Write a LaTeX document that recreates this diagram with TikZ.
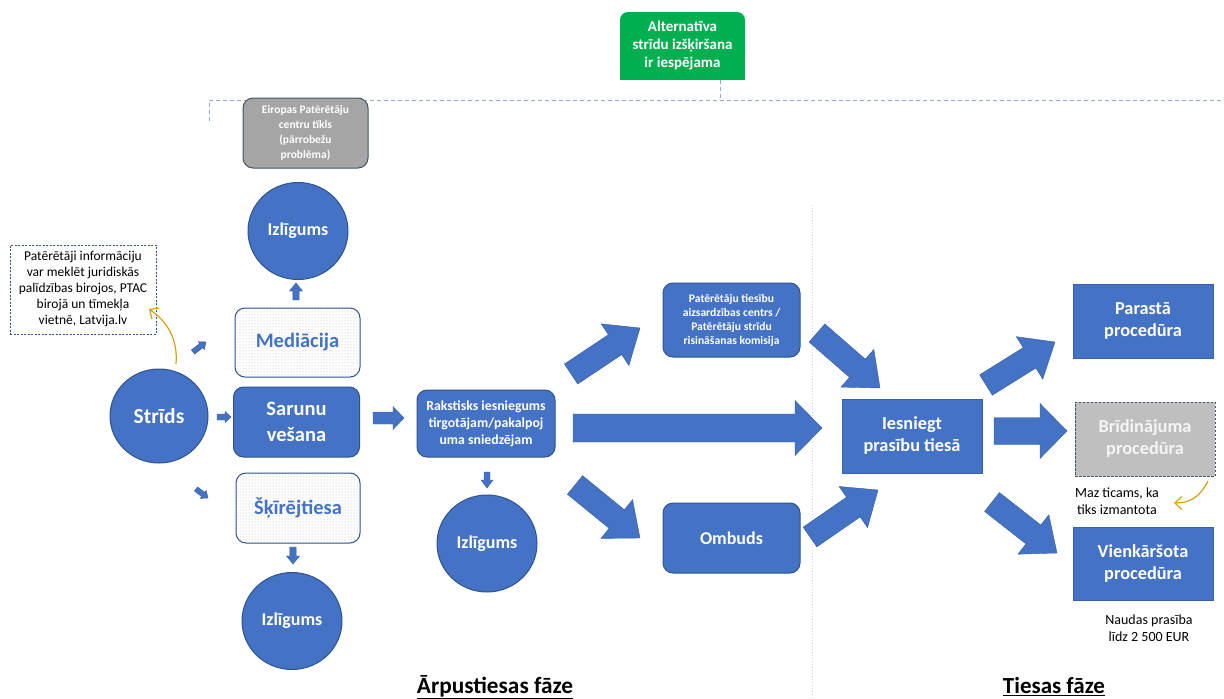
\documentclass[tikz,border=0pt]{standalone}
\usepackage{fontspec}
\setmainfont{Carlito}
\usetikzlibrary{calc,shapes.geometric,patterns,arrows.meta}
\definecolor{myblue}{HTML}{4472C4}
\definecolor{myborder}{HTML}{2F528F}
\definecolor{altgreen}{HTML}{00B050}
\definecolor{midgray}{HTML}{A5A5A5}
\definecolor{lightgray2}{HTML}{BFBFBF}
\definecolor{slate}{HTML}{44546A}
\definecolor{dashblue}{HTML}{8FAADC}
\definecolor{gold}{HTML}{D4A017}
\newcommand\fs[2]{\fontsize{#1}{#2}\selectfont}
\newcommand\barrow[5]{%
  \coordinate (bh) at ($(#2)!#5!(#1)$);
  \filldraw[barrowstyle] ($(#1)!#3!90:(#2)$) -- ($(bh)!#3!-90:(#1)$) -- ($(bh)!#4!-90:(#1)$) -- (#2) -- ($(bh)!#4!90:(#1)$) -- ($(bh)!#3!90:(#1)$) -- ($(#1)!#3!-90:(#2)$) -- cycle;}
\tikzset{
  barrowstyle/.style={fill=myblue, draw=myblue!80!black, line width=0.4pt},
  roundbox/.style={rectangle, rounded corners=10pt, fill=myblue, draw=myborder, line width=1pt, text=white, font=\bfseries, align=center, inner sep=0pt},
  sharpbox/.style={rectangle, fill=myblue, draw=myblue!85!black, line width=0.8pt, text=white, font=\bfseries, align=center, inner sep=0pt},
  dotbox/.style={rectangle, rounded corners=10pt, pattern=dots, pattern color=gray!60, draw=myborder, line width=1pt, text=myblue, font=\bfseries, align=center, inner sep=0pt},
  blob/.style={ellipse, fill=myblue, draw=myborder, line width=1pt, text=white, font=\bfseries\fs{18}{22}, inner sep=0pt},
  dashline/.style={dashed, draw=dashblue, line width=0.8pt, dash pattern=on 4pt off 3pt},
  goldarrow/.style={draw=gold, line width=1.2pt, -{Straight Barb[length=7pt,width=13pt]}},
  plain/.style={align=center, inner sep=0pt, text=black}
}
\begin{document}
\begin{tikzpicture}[x=1pt,y=-1pt]
\useasboundingbox (0,0) rectangle (1224,699);
% green box with rounded top
\fill[altgreen, rounded corners=8pt] (620,12) rectangle (745,60);
\fill[altgreen] (620,40) rectangle (745,80);
\node (alt) at (682.5,46) [plain, text=white, font=\bfseries\fs{15}{18}, minimum width=125pt, minimum height=68pt] {Alternatīva\\strīdu izšķiršana\\ir iespējama};
% dashed bracket line
\coordinate (dl0) at (209,121);
\coordinate (dl1) at (209,100);
\coordinate (dl2) at (1224,100);
\coordinate (altfoot) at (720,80);
\coordinate (altjoin) at (720,100);
\draw[dashline] (dl0) -- (dl1) -- (dl2);
\draw[dashline] (altfoot) -- (altjoin);
% separator
\coordinate (sep0) at (812,205);
\coordinate (sep1) at (812,699);
\draw[gray!35, dotted, line width=1pt] (sep0) -- (sep1);
% nodes
\node (epc) at (305.5,133) [rectangle, rounded corners=10pt, fill=midgray, draw=slate, line width=1pt, text=white, font=\bfseries\fs{11.5}{15}, align=center, inner sep=0pt, minimum width=125pt, minimum height=70pt] {Eiropas Patērētāju\\centru tīkls\\(pārrobežu\\problēma)};
\node (iz1) at (298,231) [blob, minimum width=100pt, minimum height=97pt] {Izlīgums};
\node (med) at (297.5,342.5) [dotbox, font=\bfseries\fs{20.5}{24}, minimum width=125pt, minimum height=69pt] {Mediācija};
\node (sar) at (296.5,422) [roundbox, font=\bfseries\fs{20.5}{26}, minimum width=126pt, minimum height=70pt] {Sarunu\\vešana};
\node (skir) at (298,508) [dotbox, font=\bfseries\fs{20.5}{24}, minimum width=124pt, minimum height=70pt] {Šķīrējtiesa};
\node (iz2) at (292,621) [blob, minimum width=100pt, minimum height=97pt] {Izlīgums};
\node (strids) at (159,416) [blob, font=\bfseries\fs{21.5}{24}, minimum width=98pt, minimum height=94pt] {Strīds};
\node (note) at (83,289.5) [rectangle, draw=myborder, dashed, line width=0.8pt, dash pattern=on 2pt off 1.5pt, fill=white, font=\fs{13.5}{16}, align=center, inner sep=0pt, minimum width=146pt, minimum height=89pt] {Patērētāji informāciju\\var meklēt juridiskās\\palīdzības birojos, PTAC\\birojā un tīmekļa\\vietnē, Latvija.lv};
\node (rak) at (486,423.5) [roundbox, font=\bfseries\fs{13.8}{17}, minimum width=138pt, minimum height=67pt] {Rakstisks iesniegums\\tirgotājam/pakalpoj\\uma sniedzējam};
\node (iz3) at (487,543.5) [blob, minimum width=100pt, minimum height=97pt] {Izlīgums};
\node (ptac) at (731.5,320) [roundbox, font=\bfseries\fs{11.6}{14}, minimum width=137pt, minimum height=74pt] {Patērētāju tiesību\\aizsardzības centrs /\\Patērētāju strīdu\\risināšanas komisija};
\node (omb) at (731.5,538) [roundbox, font=\bfseries\fs{18}{22}, minimum width=137pt, minimum height=70pt] {Ombuds};
\node (ies) at (912,436) [sharpbox, font=\bfseries\fs{18.3}{22}, minimum width=140pt, minimum height=74pt] {Iesniegt\\prasību tiesā};
\node (par) at (1143,321) [sharpbox, font=\bfseries\fs{18.3}{22}, minimum width=140pt, minimum height=74pt] {Parastā\\procedūra};
\node (bri) at (1145,439) [rectangle, fill=lightgray2, draw=slate, dashed, line width=1pt, dash pattern=on 2.5pt off 1.5pt, text=white!92!gray, font=\bfseries\fs{18.3}{22}, align=center, inner sep=0pt, minimum width=140pt, minimum height=74pt] {Brīdinājuma\\procedūra};
\node (vie) at (1143,563.5) [sharpbox, font=\bfseries\fs{18.3}{22}, minimum width=140pt, minimum height=73pt] {Vienkāršota\\procedūra};
\node (maz) at (1117,501) [plain, font=\fs{14}{16.5}] {Maz ticams, ka\\tiks izmantota};
\node (nau) at (1149,628) [plain, font=\fs{14}{17}] {Naudas prasība\\līdz 2 500 EUR};
\node (h1) at (495,687) [plain, font=\bfseries\fs{23.3}{24}] {\underline{Ārpustiesas fāze}};
\node (h2) at (1054,687) [plain, font=\bfseries\fs{23}{24}] {\underline{Tiesas fāze}};
% small arrows
\coordinate (s1a) at (217,417); \coordinate (s1b) at (231,417);
\barrow{s1a}{s1b}{3pt}{5.5pt}{6pt}
\coordinate (s2a) at (193,352); \coordinate (s2b) at (206,342);
\barrow{s2a}{s2b}{2.6pt}{5pt}{6pt}
\coordinate (s3a) at (196,489); \coordinate (s3b) at (208,498);
\barrow{s3a}{s3b}{2.6pt}{5pt}{6pt}
\coordinate (s4a) at (296,300); \coordinate (s4b) at (296,283);
\barrow{s4a}{s4b}{3.2pt}{6.5pt}{8pt}
\coordinate (s5a) at (293,547); \coordinate (s5b) at (293,564);
\barrow{s5a}{s5b}{3.2pt}{6.5pt}{8pt}
\coordinate (s6a) at (487,472); \coordinate (s6b) at (487,488);
\barrow{s6a}{s6b}{3pt}{6pt}{8pt}
\coordinate (s7a) at (373,418); \coordinate (s7b) at (404,418);
\barrow{s7a}{s7b}{6pt}{11.5pt}{11pt}
% big arrows
\coordinate (b1a) at (571,374); \coordinate (b1b) at (640,328);
\barrow{b1a}{b1b}{12pt}{25pt}{30pt}
\coordinate (b2a) at (573,428); \coordinate (b2b) at (822,428);
\barrow{b2a}{b2b}{14pt}{27.5pt}{27pt}
\coordinate (b3a) at (575,485); \coordinate (b3b) at (640,538);
\barrow{b3a}{b3b}{12pt}{25pt}{30pt}
\coordinate (b4a) at (817,333); \coordinate (b4b) at (880,388);
\barrow{b4a}{b4b}{12pt}{25pt}{30pt}
\coordinate (b5a) at (810,537); \coordinate (b5b) at (878,490);
\barrow{b5a}{b5b}{12pt}{25pt}{30pt}
\coordinate (b6a) at (986,385); \coordinate (b6b) at (1055,342);
\barrow{b6a}{b6b}{12pt}{25pt}{30pt}
\coordinate (b7a) at (994,431); \coordinate (b7b) at (1067,431);
\barrow{b7a}{b7b}{13.5pt}{27.5pt}{27pt}
\coordinate (b8a) at (992,502); \coordinate (b8b) at (1057,553);
\barrow{b8a}{b8b}{12pt}{25pt}{30pt}
% gold curved arrows
\coordinate (g1a) at (176,364); \coordinate (g1b) at (149,309);
\draw[goldarrow] (g1a) .. controls (178,340) and (168,322) .. (g1b);
\coordinate (g2a) at (1208,481); \coordinate (g2b) at (1174,503);
\draw[goldarrow] (g2a) .. controls (1200,497) and (1190,503) .. (g2b);
\end{tikzpicture}
\end{document}
